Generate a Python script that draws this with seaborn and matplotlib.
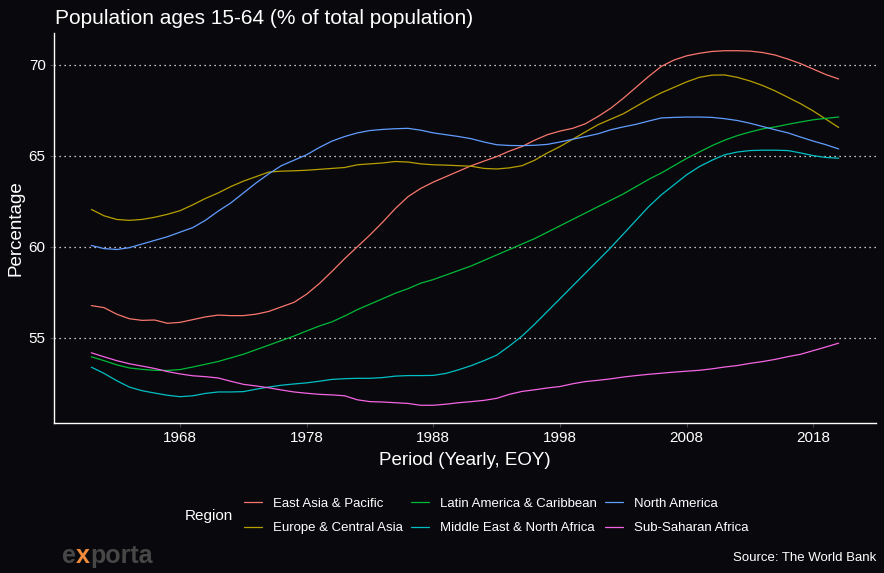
import pandas as pd
import matplotlib.pyplot as plt
import matplotlib.dates as mdates
import seaborn as sns
import numpy as np
from matplotlib.offsetbox import TextArea, HPacker, AnchoredOffsetbox

# ==========================================
# 1. Data (World Bank, population ages 15-64, % of total)
# ==========================================
years = list(range(1960, 2020))

regions = ["East Asia & Pacific", "Europe & Central Asia", "Latin America & Caribbean",
           "Middle East & North Africa", "North America", "Sub-Saharan Africa"]

east_asia = [56.77, 56.66, 56.30, 56.05, 55.96, 55.98, 55.80, 55.85, 56.00, 56.15,
             56.25, 56.22, 56.22, 56.30, 56.45, 56.70, 56.95, 57.40, 57.98, 58.65,
             59.35, 60.00, 60.65, 61.35, 62.10, 62.75, 63.20, 63.55, 63.85, 64.15,
             64.45, 64.70, 64.95, 65.25, 65.50, 65.85, 66.15, 66.35, 66.50, 66.75,
             67.15, 67.60, 68.15, 68.75, 69.35, 69.90, 70.25, 70.48, 70.62, 70.72,
             70.76, 70.76, 70.74, 70.66, 70.52, 70.30, 70.05, 69.75, 69.45, 69.21]

europe = [62.05, 61.70, 61.50, 61.45, 61.50, 61.62, 61.78, 61.98, 62.30, 62.65,
          62.95, 63.30, 63.60, 63.85, 64.10, 64.15, 64.17, 64.20, 64.25, 64.30,
          64.35, 64.50, 64.55, 64.60, 64.68, 64.65, 64.55, 64.50, 64.48, 64.45,
          64.42, 64.30, 64.27, 64.33, 64.45, 64.75, 65.15, 65.50, 65.90, 66.30,
          66.70, 67.00, 67.30, 67.70, 68.10, 68.45, 68.75, 69.05, 69.30, 69.42,
          69.43, 69.30, 69.10, 68.85, 68.55, 68.20, 67.85, 67.45, 67.00, 66.55]

latin_america = [53.96, 53.75, 53.52, 53.35, 53.27, 53.22, 53.21, 53.26, 53.40, 53.55,
                 53.70, 53.90, 54.10, 54.35, 54.60, 54.85, 55.10, 55.38, 55.65, 55.88,
                 56.20, 56.55, 56.85, 57.15, 57.45, 57.70, 58.00, 58.20, 58.45, 58.70,
                 58.95, 59.25, 59.55, 59.85, 60.15, 60.45, 60.80, 61.15, 61.50, 61.85,
                 62.20, 62.55, 62.90, 63.30, 63.70, 64.05, 64.45, 64.85, 65.20, 65.55,
                 65.85, 66.10, 66.30, 66.47, 66.58, 66.72, 66.85, 66.97, 67.05, 67.12]

middle_east = [53.39, 53.05, 52.65, 52.30, 52.10, 51.97, 51.85, 51.77, 51.82, 51.95,
               52.03, 52.03, 52.05, 52.18, 52.30, 52.40, 52.47, 52.53, 52.62, 52.72,
               52.76, 52.78, 52.78, 52.82, 52.90, 52.93, 52.93, 52.94, 53.05, 53.25,
               53.48, 53.75, 54.05, 54.55, 55.10, 55.75, 56.45, 57.15, 57.85, 58.55,
               59.25, 59.95, 60.70, 61.45, 62.20, 62.85, 63.40, 63.95, 64.40, 64.75,
               65.05, 65.20, 65.28, 65.30, 65.30, 65.28, 65.15, 65.00, 64.90, 64.86]

north_america = [60.07, 59.90, 59.85, 59.95, 60.15, 60.35, 60.55, 60.80, 61.05, 61.45,
                 61.95, 62.40, 62.95, 63.50, 64.00, 64.45, 64.75, 65.05, 65.45, 65.80,
                 66.05, 66.25, 66.38, 66.44, 66.48, 66.50, 66.40, 66.25, 66.15, 66.05,
                 65.93, 65.75, 65.60, 65.56, 65.55, 65.57, 65.62, 65.75, 65.90, 66.05,
                 66.20, 66.42, 66.58, 66.72, 66.90, 67.07, 67.10, 67.12, 67.12, 67.10,
                 67.03, 66.93, 66.78, 66.60, 66.42, 66.25, 66.02, 65.80, 65.60, 65.37]

sub_saharan = [54.18, 53.96, 53.75, 53.58, 53.45, 53.32, 53.15, 53.02, 52.92, 52.87,
               52.80, 52.62, 52.45, 52.36, 52.26, 52.14, 52.03, 51.96, 51.90, 51.87,
               51.82, 51.60, 51.50, 51.48, 51.44, 51.40, 51.30, 51.30, 51.36, 51.44,
               51.50, 51.57, 51.68, 51.90, 52.06, 52.15, 52.25, 52.33, 52.48, 52.60,
               52.67, 52.75, 52.85, 52.93, 53.00, 53.06, 53.12, 53.17, 53.22, 53.30,
               53.40, 53.48, 53.60, 53.70, 53.82, 53.97, 54.10, 54.30, 54.50, 54.71]

series = [east_asia, europe, latin_america, middle_east, north_america, sub_saharan]

# long table, dates at end of year (EOY)
rows = []
for reg, vals in zip(regions, series):
    for y, v in zip(years, vals):
        rows.append({"Period": pd.Timestamp(f"{y}-12-31"), "Region": reg, "Percentage": v})
df = pd.DataFrame(rows)

gg_colors = ["#F8766D", "#B79F00", "#00BA38", "#00BFC4", "#619CFF", "#F564E3"]
tick_years = [1968, 1978, 1988, 1998, 2008, 2018]

# ==========================================
# 2. Plot
# ==========================================
bg = "#09090d"
sns.set_theme(style="white")
plt.rcParams['font.family'] = ['Liberation Sans', 'DejaVu Sans']

fig = plt.figure(figsize=(8.84, 5.73), dpi=100, facecolor=bg)
ax = fig.add_axes([54 / 884, 1 - 423 / 573, 822 / 884, 390 / 573])
ax.set_facecolor(bg)

sns.lineplot(data=df, x="Period", y="Percentage", hue="Region",
             hue_order=regions, palette=gg_colors, linewidth=0.9, ax=ax)

ax.margins(x=0.05, y=0.05)
ax.set_yticks([55, 60, 65, 70])
ax.set_xticks([pd.Timestamp(f"{y}-01-01") for y in tick_years])
ax.xaxis.set_major_formatter(mdates.DateFormatter("%Y"))

ax.yaxis.grid(True, color="white", linestyle=(0, (1, 3)), linewidth=0.9)
ax.xaxis.grid(False)
for s in ["top", "right"]:
    ax.spines[s].set_visible(False)
for s in ["left", "bottom"]:
    ax.spines[s].set_color("white")
    ax.spines[s].set_linewidth(1.0)

ax.tick_params(axis="both", colors="#444444", length=3, width=0.8, pad=3,
               labelcolor="white", labelsize=11)
ax.tick_params(axis="both", which="both", bottom=True, left=True)

ax.set_xlabel("Period (Yearly, EOY)", color="white", fontsize=13.5)
ax.set_ylabel("Percentage", color="white", fontsize=13.5)
ax.xaxis.set_label_coords(0.5, -0.097)
ax.xaxis.label.set_va("center")
ax.yaxis.set_label_coords(-0.046, 0.5)
ax.yaxis.label.set_va("center")
ax.yaxis.label.set_ha("center")

# legend at bottom, title on the left
handles, labels = ax.get_legend_handles_labels()
ax.get_legend().remove()
leg = fig.legend(handles, labels, ncol=3, loc="center left",
                 bbox_to_anchor=(244 / 884, 1 - 516 / 573),
                 frameon=False, fontsize=9.5, labelcolor="white",
                 handlelength=1.4, handletextpad=0.8, columnspacing=0.6,
                 labelspacing=0.9, borderpad=0, borderaxespad=0)
fig.text(185 / 884, 1 - 516 / 573, "Region", color="white", fontsize=11,
         ha="left", va="center")

# title
fig.text(55 / 884, 1 - 24.5 / 573, "Population ages 15-64 (% of total population)",
         color="white", fontsize=15, ha="left", va="baseline")

# footer: logo + source
logo_props = dict(color="#474747", fontsize=18, fontweight="bold")
parts = [TextArea("e", textprops=logo_props),
         TextArea("x", textprops=dict(logo_props, color="#f08a3c")),
         TextArea("porta", textprops=logo_props)]
logo = HPacker(children=parts, align="baseline", pad=0, sep=0)
fig.add_artist(AnchoredOffsetbox(loc="center left", child=logo, pad=0, borderpad=0,
                                 frameon=False, bbox_to_anchor=(62 / 884, 1 - 556 / 573),
                                 bbox_transform=fig.transFigure))
fig.text(876 / 884, 1 - 558 / 573, "Source: The World Bank", color="white",
         fontsize=9.5, ha="right", va="center")

fig.savefig("out.png", dpi=100, facecolor=bg)
